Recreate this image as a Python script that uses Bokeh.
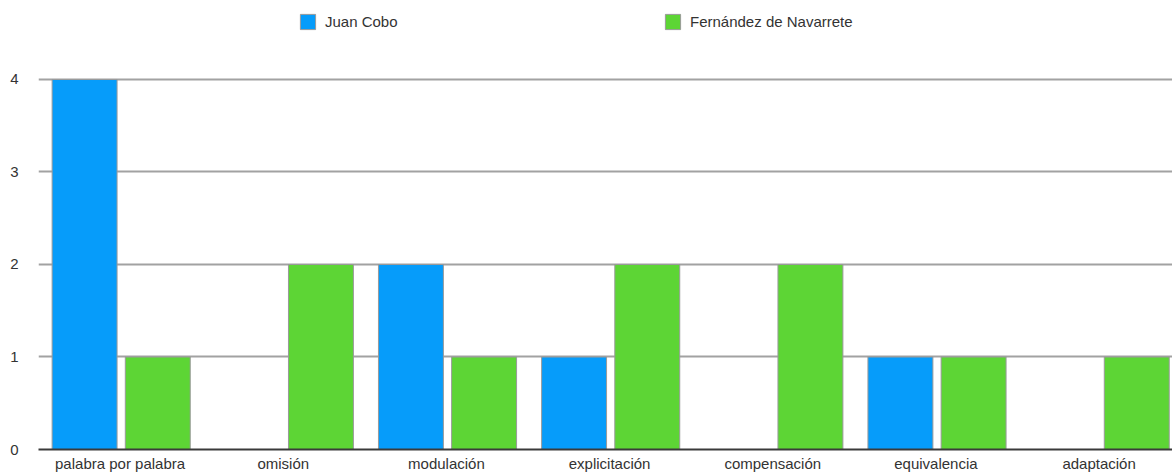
from bokeh.plotting import figure
from bokeh.models import Range1d, FixedTicker, Legend, LegendItem, ColumnDataSource
from bokeh.embed import file_html
from bokeh.resources import INLINE

categories = ["palabra por palabra", "omisión", "modulación", "explicitación",
              "compensación", "equivalencia", "adaptación"]
juan_cobo = [4, 0, 2, 1, 0, 1, 0]
fernandez_navarrete = [1, 2, 1, 2, 2, 1, 1]
y_ticks = [0, 1, 2, 3, 4]

series_names = ["Juan Cobo", "Fernández de Navarrete"]
series_colors = ["#069CFA", "#5DD535"]

FONT = "Liberation Sans"
TEXT_COLOR = "#333333"

idx = list(range(len(categories)))
src = ColumnDataSource(dict(
    x_juan=[i + 0.2825 for i in idx],
    x_fern=[i + 0.731 for i in idx],
    juan=juan_cobo,
    fern=fernandez_navarrete,
))

p = figure(
    width=1172, height=474,
    frame_width=1134, frame_height=449,
    min_border_left=38, min_border_right=0,
    min_border_top=0, min_border_bottom=25,
    x_range=Range1d(0, 6.95), y_range=Range1d(0, 4.854),
    output_backend="svg", toolbar_location=None,
)
p.outline_line_color = None
p.background_fill_color = "white"
p.border_fill_color = "white"

r_juan = p.vbar(x="x_juan", top="juan", width=0.398, source=src,
                fill_color=series_colors[0], line_color="#9a9a9a", line_width=1)
r_fern = p.vbar(x="x_fern", top="fern", width=0.398, source=src,
                fill_color=series_colors[1], line_color="#9a9a9a", line_width=1)

# category axis: one label in the middle of each group
p.xaxis.ticker = FixedTicker(ticks=[i + 0.5 for i in idx])
p.xaxis.major_label_overrides = {i + 0.5: c for i, c in zip(idx, categories)}
p.xaxis.axis_line_color = "#3a3a3a"
p.xaxis.axis_line_width = 2
p.xaxis.major_tick_line_color = None
p.xaxis.major_tick_out = 0
p.xaxis.major_tick_in = 0
p.xaxis.minor_tick_line_color = None
p.xaxis.major_label_standoff = 5
p.xaxis.major_label_text_font = FONT
p.xaxis.major_label_text_font_size = "15px"
p.xaxis.major_label_text_color = TEXT_COLOR

p.yaxis.ticker = FixedTicker(ticks=y_ticks)
p.yaxis.axis_line_color = None
p.yaxis.major_tick_line_color = None
p.yaxis.major_tick_out = 0
p.yaxis.major_tick_in = 0
p.yaxis.minor_tick_line_color = None
p.yaxis.major_label_standoff = 20
p.yaxis.major_label_text_font = FONT
p.yaxis.major_label_text_font_size = "15px"
p.yaxis.major_label_text_color = TEXT_COLOR

p.xgrid.grid_line_color = None
p.ygrid.grid_line_color = "#a2a2a2"
p.ygrid.grid_line_width = 1.8

# two free-standing legend entries above the bars
for name, rend, x in [(series_names[0], r_juan, 260), (series_names[1], r_fern, 625)]:
    leg = Legend(items=[LegendItem(label=name, renderers=[rend])],
                 location=(x, 418), orientation="horizontal")
    leg.padding = 0
    leg.margin = 0
    leg.border_line_color = None
    leg.background_fill_alpha = 0
    leg.glyph_width = 19
    leg.glyph_height = 19
    leg.label_height = 19
    leg.label_standoff = 8
    leg.label_text_font = FONT
    leg.label_text_font_size = "15px"
    leg.label_text_color = TEXT_COLOR
    leg.label_text_baseline = "middle"
    p.add_layout(leg, "center")

open("out.html", "w").write(file_html(p, INLINE))
